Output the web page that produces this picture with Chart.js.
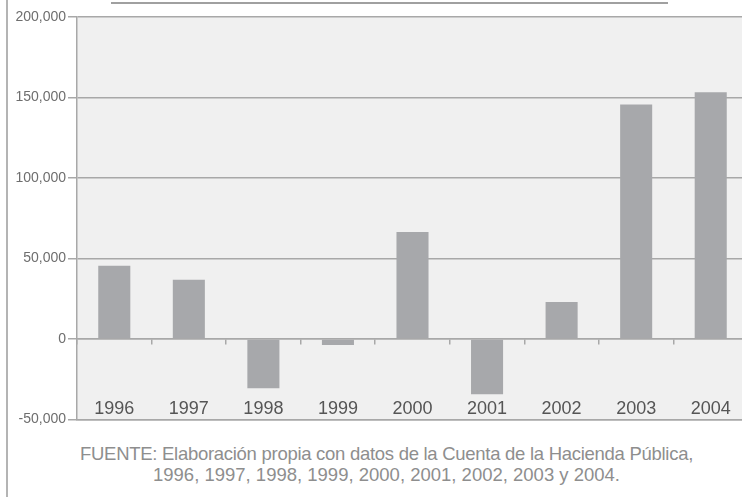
<!DOCTYPE html>
<html>
<head>
<meta charset="utf-8">
<script src="https://cdn.jsdelivr.net/npm/chart.js@4/dist/chart.umd.min.js"></script>
<style>
  html, body { margin: 0; padding: 0; background: #ffffff; overflow: hidden; width: 742px; height: 497px; }
  #wrap { position: absolute; left: 0; top: 0; width: 750px; height: 430px; }
  #leftLine { position: absolute; left: 6px; top: 0; width: 2px; height: 497px; background: #b4b4b4; }
  #topLine { position: absolute; left: 111px; top: 2px; width: 557px; height: 2px; background: #a0a0a0; }
  #footer { position: absolute; left: 0; top: 443px; width: 773px; text-align: center;
            font-family: "Liberation Sans", Arial, sans-serif; font-size: 18.5px; line-height: 21px; color: #8e8e8e; }
  #footer .l1 { letter-spacing: -0.28px; }
</style>
</head>
<body>
<div id="leftLine"></div>
<div id="topLine"></div>
<div id="wrap"><canvas id="c"></canvas></div>
<div id="footer"><span class="l1">FUENTE: Elaboración propia con datos de la Cuenta de la Hacienda Pública,</span><br>1996, 1997, 1998, 1999, 2000, 2001, 2002, 2003 y 2004.</div>
<script>
const years = ["1996", "1997", "1998", "1999", "2000", "2001", "2002", "2003", "2004"];
const values = [45500, 36800, -30600, -3700, 66500, -34200, 23000, 145700, 153200];
const yMin = -50000;
const yMax = 200000;
const yStep = 50000;

const plotBg = {
  id: 'plotBg',
  beforeDraw(chart) {
    const {ctx, chartArea: a} = chart;
    ctx.save();
    ctx.fillStyle = '#f0f0f0';
    ctx.fillRect(a.left, a.top, a.right - a.left, a.bottom - a.top);
    ctx.restore();
  }
};

new Chart(document.getElementById('c'), {
  type: 'bar',
  data: {
    labels: years,
    datasets: [{
      data: values,
      backgroundColor: '#a7a8ab',
      borderWidth: 0,
      categoryPercentage: 0.86,
      barPercentage: 0.5
    }]
  },
  options: {
    responsive: true,
    maintainAspectRatio: false,
    animation: false,
    layout: { padding: { left: 0, right: 2, top: 17, bottom: 9 } },
    plugins: { legend: { display: false }, tooltip: { enabled: false }, title: { display: false } },
    scales: {
      x: {
        type: 'category',
        position: { y: yMin },
        offset: true,
        grid: { display: true, drawOnChartArea: false, drawTicks: false, offset: true },
        border: { display: true, color: '#a8a8a8', width: 1.5 },
        ticks: { padding: -21, color: '#555555', font: { family: 'Liberation Sans', size: 18 }, maxRotation: 0, autoSkip: false }
      },
      x0: {
        type: 'category',
        position: { y: 0 },
        offset: true,
        grid: { display: true, drawOnChartArea: false, drawTicks: true, tickLength: 5, offset: true, color: '#a8a8a8', lineWidth: 1.5 },
        border: { display: true, color: '#a8a8a8', width: 1.5 },
        ticks: { display: false }
      },
      y: {
        min: yMin,
        max: yMax,
        ticks: {
          stepSize: yStep,
          padding: 2,
          color: '#6e6e6e',
          font: { family: 'Liberation Sans', size: 14 },
          callback: v => Number(v).toLocaleString('en-US')
        },
        grid: { color: '#a8a8a8', lineWidth: 1.5, tickLength: 9 },
        border: { display: true, color: '#a8a8a8', width: 1.5 },
        afterFit(scale) { scale.width = 77; }
      }
    }
  },
  plugins: [plotBg]
});
</script>
</body>
</html>
